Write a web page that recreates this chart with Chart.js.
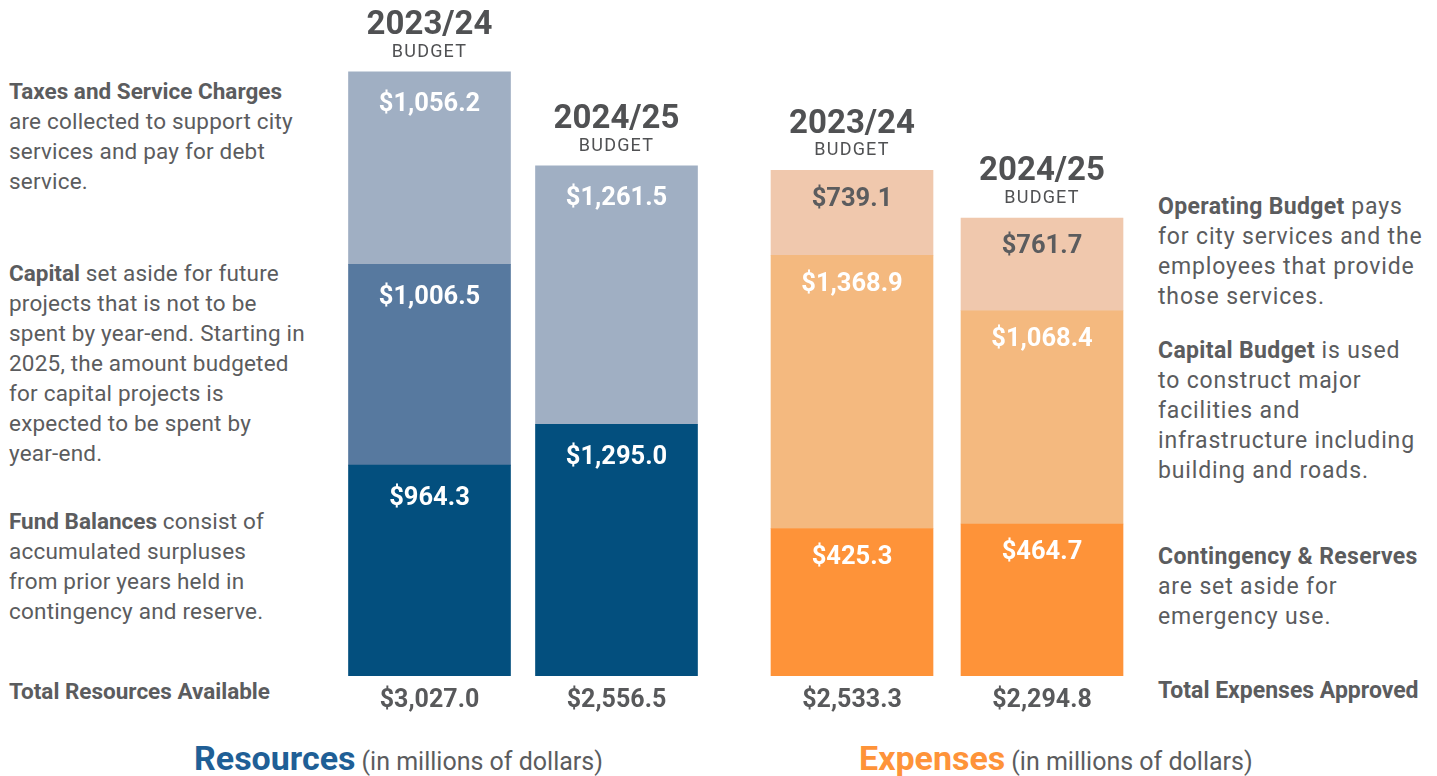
<!DOCTYPE html>
<html>
<head>
<meta charset="utf-8">
<script src="https://cdn.jsdelivr.net/npm/chart.js@4/dist/chart.umd.min.js"></script>
<style>
  html, body { margin: 0; padding: 0; background: #fff; }
  body { width: 1437px; height: 776px; position: relative; overflow: hidden;
         font-family: Roboto, "Noto Sans", sans-serif; color: #5b5c5e; }
  canvas { position: absolute; top: 0; }
  #resChart { left: 336px; }
  #expChart { left: 757px; }
  .note { position: absolute; font-size: 22.5px; line-height: 30px; white-space: nowrap; }
  .note b { font-weight: 700; letter-spacing: 0; }
  .left { left: 9px; letter-spacing: 0.2px; }
  .right { left: 1158px; font-size: 23px; letter-spacing: 0.85px; }
  .right b { letter-spacing: 0.35px; }
  .title { position: absolute; top: 738px; line-height: 40px; white-space: nowrap; }
  .title b { font-size: 34px; font-weight: 700; margin-right: 6px; }
  .title span { font-size: 25px; }
</style>
</head>
<body>
<canvas id="resChart" width="374" height="720"></canvas>
<canvas id="expChart" width="380" height="720"></canvas>

<div class="note left" style="top:76px"><b>Taxes and Service Charges</b><br>are collected to support city<br>services and pay for debt<br>service.</div>
<div class="note left" style="top:258px"><b>Capital</b> set aside for future<br>projects that is not to be<br>spent by year-end. Starting in<br>2025, the amount budgeted<br>for capital projects is<br>expected to be spent by<br>year-end.</div>
<div class="note left" style="top:506px"><b>Fund Balances</b> consist of<br>accumulated surpluses<br>from prior years held in<br>contingency and reserve.</div>
<div class="note left" style="top:676px"><b>Total Resources Available</b></div>

<div class="note right" style="top:192px"><b>Operating Budget</b> pays<br>for city services and the<br>employees that provide<br>those services.</div>
<div class="note right" style="top:336px"><b>Capital Budget</b> is used<br>to construct major<br>facilities and<br>infrastructure including<br>building and roads.</div>
<div class="note right" style="top:542px"><b>Contingency &amp; Reserves</b><br>are set aside for<br>emergency use.</div>
<div class="note right" style="top:676px"><b style="letter-spacing:0">Total Expenses Approved</b></div>

<div class="title" style="left:194px"><b style="color:#1f5f96">Resources</b><span>(in millions of dollars)</span></div>
<div class="title" style="left:859px"><b style="color:#fe9339">Expenses</b><span>(in millions of dollars)</span></div>

<script>
// budget years
const years = ['2023/24', '2024/25'];

// resources, as printed on the segments (millions)
const resFund = [964.3, 1295.0];
const resCapital = [1006.5, null];
const resTaxes = [1056.2, 1261.5];

// expenses, as printed on the segments (millions)
const expReserves = [425.3, 464.7];
const expCapital = [1368.9, 1068.4];
const expOperating = [739.1, 761.7];

const yMax = 3387;
const gray = '#58595b';

// the source stacks the amounts in the reverse order of the printed labels,
// so the bottom segment is as tall as the top label's amount
function makeDatasets(heights, printed, colors, labelColors) {
  return heights.map((h, i) => ({
    data: h,
    printed: printed[i],
    labelColor: labelColors[i],
    backgroundColor: colors[i],
    borderWidth: 0,
    barThickness: 162
  }));
}

const money = v => '$' + v.toLocaleString('en-US', { minimumFractionDigits: 1, maximumFractionDigits: 1 });

function labelsPlugin(labelOffset) {
  return {
    id: 'budgetLabels',
    afterDatasetsDraw(chart) {
      const ctx = chart.ctx;
      ctx.save();
      ctx.textAlign = 'center';
      ctx.textBaseline = 'middle';

      // amounts inside each segment
      chart.data.datasets.forEach((ds, i) => {
        const meta = chart.getDatasetMeta(i);
        meta.data.forEach((bar, j) => {
          if (ds.data[j] == null) return;
          ctx.font = 'bold 25.5px Roboto';
          ctx.fillStyle = ds.labelColor;
          ctx.fillText(money(ds.printed[j]), bar.x, bar.y + labelOffset);
        });
      });

      // year header above and total below each bar
      chart.data.labels.forEach((year, j) => {
        let top = null, x = null, total = 0;
        chart.data.datasets.forEach((ds, i) => {
          if (ds.data[j] == null) return;
          const bar = chart.getDatasetMeta(i).data[j];
          top = bar.y;
          x = bar.x;
          total += ds.printed[j];
        });
        ctx.fillStyle = '#505153';
        ctx.font = 'bold 33px Roboto';
        ctx.fillText(year, x, top - 46);
        ctx.font = '18px Roboto';
        ctx.letterSpacing = '1.2px';
        ctx.fillText('BUDGET', x, top - 19.5);
        ctx.letterSpacing = '0px';
        ctx.fillStyle = gray;
        ctx.font = 'bold 25px Roboto';
        ctx.fillText(money(total), x, chart.chartArea.bottom + 25);
      });
      ctx.restore();
    }
  };
}

function makeChart(id, datasets, labelOffset) {
  return new Chart(document.getElementById(id), {
    type: 'bar',
    data: { labels: years, datasets: datasets },
    options: {
      responsive: false,
      animation: false,
      layout: { padding: { top: 0, bottom: 44, left: 0, right: 0 } },
      plugins: { legend: { display: false }, tooltip: { enabled: false } },
      scales: {
        x: { stacked: true, display: false },
        y: { stacked: true, display: false, min: 0, max: yMax }
      }
    },
    plugins: [labelsPlugin(labelOffset)]
  });
}

makeChart('resChart', makeDatasets(
  [resTaxes, resCapital, resFund],
  [resFund, resCapital, resTaxes],
  ['#034f7e', '#57799f', '#a0afc3'],
  ['#ffffff', '#ffffff', '#ffffff']
), 33);

makeChart('expChart', makeDatasets(
  [expOperating, expCapital, expReserves],
  [expReserves, expCapital, expOperating],
  ['#fe9339', '#f4b97f', '#f0c8ad'],
  ['#ffffff', '#ffffff', '#5b5c5e']
), 29);
</script>
</body>
</html>
